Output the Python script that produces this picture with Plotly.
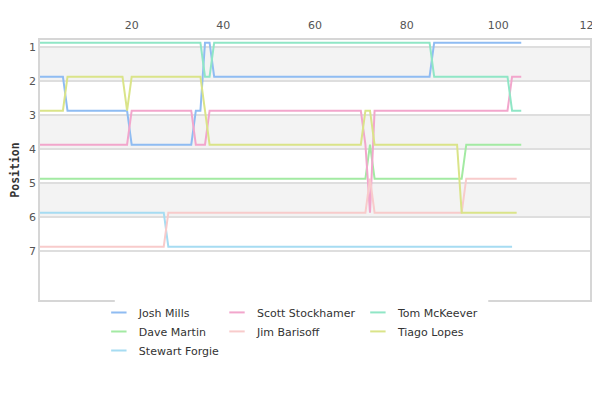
import plotly.graph_objects as go

# ---- race data: (lap, position) at the laps where the running order changes ----
josh_laps = [0, 5, 6, 19, 20, 33, 34, 35, 36, 37, 38, 85, 86, 105]
josh_pos = [2, 2, 3, 3, 4, 4, 3, 3, 1, 1, 2, 2, 1, 1]

scott_laps = [0, 19, 20, 33, 34, 36, 37, 70, 71, 72, 73, 102, 103, 105]
scott_pos = [4, 4, 3, 3, 4, 4, 3, 3, 4, 6, 3, 3, 2, 2]

tom_laps = [0, 35, 36, 37, 38, 85, 86, 102, 103, 105]
tom_pos = [1, 1, 2, 2, 1, 1, 2, 2, 3, 3]

dave_laps = [0, 71, 72, 73, 92, 93, 105]
dave_pos = [5, 5, 4, 5, 5, 4, 4]

jim_laps = [0, 27, 28, 71, 72, 73, 92, 93, 104]
jim_pos = [7, 7, 6, 6, 5, 6, 6, 5, 5]

tiago_laps = [0, 5, 6, 18, 19, 20, 35, 36, 37, 70, 71, 72, 73, 91, 92, 104]
tiago_pos = [3, 3, 2, 2, 3, 2, 2, 3, 4, 4, 3, 3, 4, 4, 6, 6]

stewart_laps = [0, 27, 28, 103]
stewart_pos = [6, 6, 7, 7]

x_ticks = [20, 40, 60, 80, 100, 120]
y_ticks = [1, 2, 3, 4, 5, 6, 7]

# name, laps, positions, colour, legend column
series = [
    ("Josh Mills", josh_laps, josh_pos, "#8fbcf2", "legend"),
    ("Dave Martin", dave_laps, dave_pos, "#a3eaa3", "legend"),
    ("Stewart Forgie", stewart_laps, stewart_pos, "#a6dcf2", "legend"),
    ("Scott Stockhamer", scott_laps, scott_pos, "#f2a6cc", "legend2"),
    ("Jim Barisoff", jim_laps, jim_pos, "#f8cbcb", "legend2"),
    ("Tom McKeever", tom_laps, tom_pos, "#90e6c6", "legend3"),
    ("Tiago Lopes", tiago_laps, tiago_pos, "#dae489", "legend3"),
]

TICK_OFF = 0.12  # gridlines sit a touch below the lines in the original
GRID = "#dedede"

fig = go.Figure()
for name, laps, pos, col, lg in series:
    fig.add_trace(go.Scatter(x=laps, y=pos, mode="lines", name=name,
                             line=dict(color=col, width=2), showlegend=False))
for name, laps, pos, col, lg in series:
    # legend-only entry with a short dash symbol
    fig.add_trace(go.Scatter(x=[None], y=[None], mode="markers", name=name, legend=lg,
                             marker=dict(symbol="line-ew-open", size=11, color=col,
                                         line=dict(width=2, color=col))))

# alternating bands
for lo in (1, 3, 5):
    fig.add_shape(type="rect", xref="paper", x0=0, x1=1, y0=lo + TICK_OFF, y1=lo + 1 + TICK_OFF,
                  fillcolor="#f3f3f3", line_width=0, layer="below")
# legend box breaks the bottom frame line
fig.add_shape(type="rect", xref="paper", yref="paper", x0=0.136, x1=0.815, y0=-0.012, y1=0.012,
              fillcolor="white", line_width=0, layer="above")

leg = dict(orientation="v", yanchor="top", xanchor="left", bgcolor="rgba(0,0,0,0)",
           font=dict(family="DejaVu Sans", size=11, color="#333"))
# page body has an 8px margin: shrink the figure so the page does not overflow the window
fig.update_layout(
    width=592, height=384,
    margin=dict(l=32, r=10, t=32, b=92),
    paper_bgcolor="white", plot_bgcolor="white",
    font=dict(family="DejaVu Sans", size=11, color="#555"),
    legend=dict(leg, x=0.107, y=0.008),
    legend2=dict(leg, x=0.3218, y=0.008),
    legend3=dict(leg, x=0.578, y=0.008),
    xaxis=dict(range=[0, 120], side="top", tickvals=x_ticks, showgrid=False, zeroline=False,
               showline=True, mirror=True, linecolor="#d6d6d6", linewidth=1.5,
               ticks="outside", ticklen=5, tickcolor="rgba(0,0,0,0)",
               ticklabeloverflow="allow", automargin=False,
               tickfont=dict(size=11, color="#555")),
    yaxis=dict(range=[8.57, 0.92], tickvals=[t + TICK_OFF for t in y_ticks],
               ticktext=[str(t) for t in y_ticks], showgrid=True, gridcolor=GRID, gridwidth=1.5,
               zeroline=False, showline=True, mirror=True, linecolor="#d6d6d6", linewidth=1.5,
               ticks="", automargin=False, tickfont=dict(size=11, color="#555"),
               title=dict(text="<b>Position</b>", standoff=21,
                          font=dict(family="DejaVu Sans Mono", size=11.5, color="#333"))),
)

fig.write_html("out.html")
